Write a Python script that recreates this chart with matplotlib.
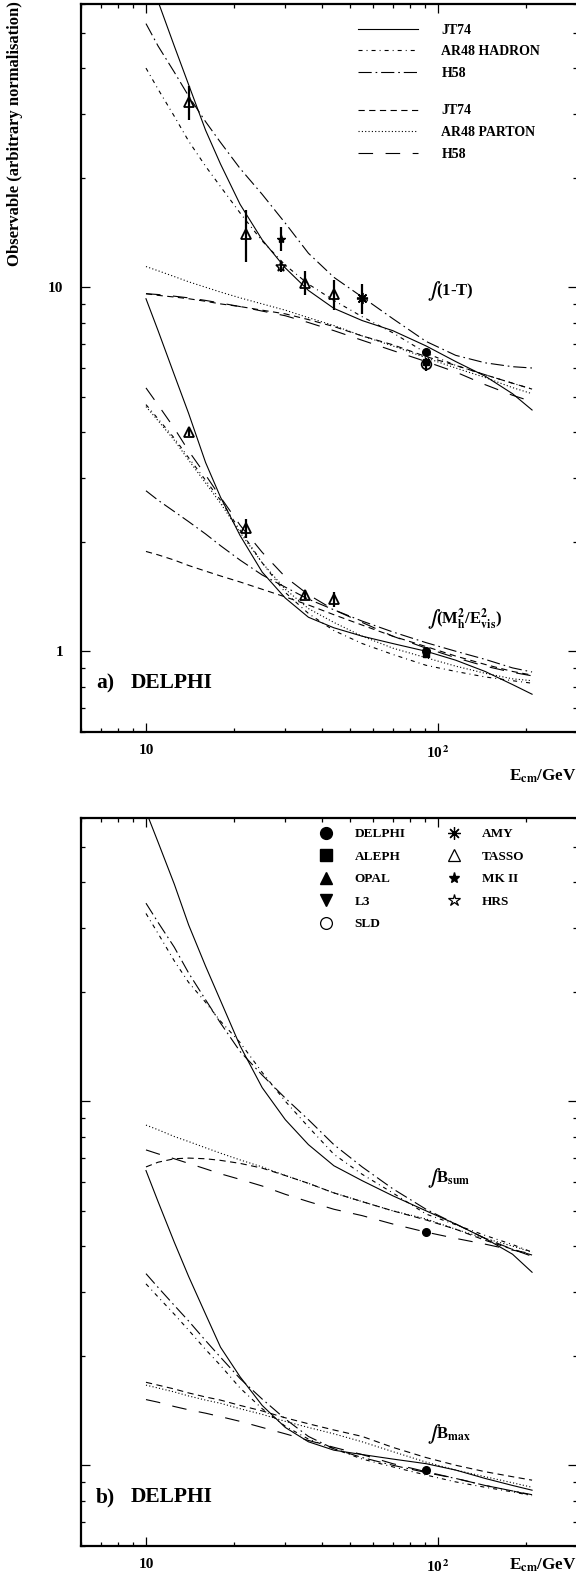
import matplotlib
matplotlib.use("Agg")
import matplotlib.pyplot as plt
from matplotlib.lines import Line2D
from matplotlib.ticker import FixedLocator, FixedFormatter, LogLocator, NullFormatter

plt.rcParams['font.family'] = ['Liberation Serif', 'DejaVu Serif']
plt.rcParams['font.weight'] = 'bold'
plt.rcParams['mathtext.fontset'] = 'stix'
plt.rcParams['mathtext.default'] = 'bf'
plt.rcParams['lines.scale_dashes'] = False

E_GRID = [10, 11, 12.5, 14, 16, 18, 21, 25, 30, 36, 44, 55, 70, 91, 115, 145, 180, 210]

# ---- panel a: integral of (1-T)
thr_jt74_had = [76, 61, 46, 36, 27, 21.8, 16.9, 13.5, 11.3, 9.8, 8.75, 8.1, 7.6, 6.9, 6.25, 5.7, 5.1, 4.6]
thr_ar48_had = [40, 35, 29.5, 25.2, 21.5, 18.9, 16, 13.4, 11.5, 10.2, 9.2, 8.3, 7.5, 6.6, 6.1, 5.75, 5.45, 5.25]
thr_h58_had = [53, 46, 39, 33.5, 28.5, 25, 21.2, 18, 15, 12.4, 10.65, 9.4, 8.2, 7.1, 6.5, 6.2, 6.05, 6.0]
thr_jt74_par = [9.6, 9.5, 9.4, 9.3, 9.15, 9.0, 8.85, 8.65, 8.45, 8.15, 7.8, 7.35, 6.95, 6.45, 6.1, 5.75, 5.45, 5.25]
thr_ar48_par = [11.4, 11.1, 10.7, 10.35, 10.0, 9.7, 9.35, 9.0, 8.65, 8.25, 7.85, 7.35, 6.9, 6.4, 6.0, 5.65, 5.3, 5.1]
thr_h58_par = [9.6, 9.55, 9.45, 9.35, 9.2, 9.05, 8.85, 8.6, 8.35, 8.0, 7.6, 7.15, 6.7, 6.25, 5.85, 5.4, 5.05, 4.85]

# ---- panel a: integral of M_h^2/E_vis^2
mh_jt74_had = [9.3, 7.6, 5.75, 4.5, 3.3, 2.65, 2.08, 1.65, 1.4, 1.24, 1.16, 1.1, 1.05, 1.0, 0.945, 0.88, 0.81, 0.762]
mh_ar48_had = [4.76, 4.35, 3.85, 3.4, 2.95, 2.6, 2.15, 1.75, 1.45, 1.27, 1.14, 1.05, 0.98, 0.915, 0.88, 0.85, 0.83, 0.817]
mh_h58_had = [2.76, 2.6, 2.42, 2.27, 2.1, 1.95, 1.78, 1.62, 1.5, 1.39, 1.3, 1.21, 1.13, 1.056, 1.0, 0.95, 0.9, 0.877]
mh_jt74_par = [1.88, 1.84, 1.78, 1.72, 1.66, 1.61, 1.55, 1.48, 1.41, 1.34, 1.26, 1.18, 1.1, 1.03, 0.97, 0.92, 0.88, 0.86]
mh_ar48_par = [4.7, 4.3, 3.8, 3.35, 2.9, 2.55, 2.12, 1.75, 1.48, 1.31, 1.2, 1.1, 1.02, 0.96, 0.91, 0.87, 0.84, 0.83]
mh_h58_par = [5.29, 4.75, 4.1, 3.55, 3.05, 2.65, 2.22, 1.87, 1.6, 1.43, 1.3, 1.2, 1.1, 1.02, 0.96, 0.91, 0.875, 0.856]

# ---- panel b: integral of B_sum
bs_jt74_had = [62.6, 51.5, 39.5, 30.5, 23.5, 18.9, 14.2, 10.9, 8.9, 7.6, 6.65, 6.05, 5.5, 5.0, 4.6, 4.2, 3.8, 3.39]
bs_ar48_had = [32.8, 28.9, 24.3, 21.2, 18.7, 16.6, 14.5, 12.0, 10.0, 8.5, 7.15, 6.3, 5.6, 4.9, 4.58, 4.28, 4.04, 3.85]
bs_h58_had = [35, 31, 26.5, 22.5, 19, 16.4, 13.7, 11.8, 10.2, 8.9, 7.6, 6.6, 5.75, 5.05, 4.6, 4.2, 3.92, 3.75]
bs_jt74_par = [6.6, 6.8, 6.95, 6.98, 6.95, 6.88, 6.75, 6.55, 6.25, 5.95, 5.6, 5.3, 5.0, 4.72, 4.45, 4.15, 3.92, 3.78]
bs_ar48_par = [8.6, 8.35, 8.0, 7.75, 7.45, 7.2, 6.9, 6.6, 6.25, 5.95, 5.6, 5.3, 5.0, 4.75, 4.45, 4.2, 4.0, 3.85]
bs_h58_par = [7.35, 7.17, 6.95, 6.75, 6.52, 6.32, 6.1, 5.85, 5.55, 5.3, 5.05, 4.85, 4.6, 4.37, 4.2, 4.05, 3.9, 3.81]

# ---- panel b: integral of B_max
bm_jt74_had = [6.45, 5.3, 4.1, 3.3, 2.6, 2.11, 1.75, 1.46, 1.27, 1.16, 1.1, 1.07, 1.04, 1.01, 0.97, 0.92, 0.88, 0.854]
bm_ar48_had = [3.15, 2.9, 2.6, 2.35, 2.08, 1.88, 1.63, 1.43, 1.28, 1.18, 1.11, 1.04, 0.99, 0.94, 0.9, 0.87, 0.845, 0.825]
bm_h58_had = [3.36, 3.08, 2.75, 2.49, 2.2, 1.98, 1.73, 1.52, 1.34, 1.2, 1.11, 1.05, 1.0, 0.955, 0.92, 0.88, 0.85, 0.83]
bm_jt74_par = [1.69, 1.66, 1.62, 1.58, 1.54, 1.51, 1.46, 1.41, 1.35, 1.3, 1.25, 1.2, 1.12, 1.05, 1.0, 0.96, 0.93, 0.91]
bm_ar48_par = [1.66, 1.63, 1.59, 1.55, 1.51, 1.48, 1.43, 1.38, 1.32, 1.27, 1.22, 1.16, 1.09, 1.02, 0.97, 0.93, 0.895, 0.87]
bm_h58_par = [1.515, 1.49, 1.45, 1.42, 1.39, 1.36, 1.32, 1.27, 1.22, 1.17, 1.12, 1.07, 1.01, 0.96, 0.92, 0.88, 0.85, 0.827]

# ---- measurements
tasso_e = [14, 22, 35, 44]
tasso_thr = [32.3, 14.0, 10.3, 9.57]
tasso_thr_err = [3.5, 2.3, 0.75, 0.9]
tasso_mh = [3.99, 2.18, 1.43, 1.39]
tasso_mh_err = [0.08, 0.13, 0.04, 0.065]
mk2_e, mk2_thr, mk2_thr_err = [29], [13.6], [1.0]
hrs_e, hrs_thr, hrs_thr_err = [29], [11.35], [0.35]
amy_e, amy_thr, amy_thr_err = [55], [9.33], [0.9]
lep_e = [91.2]
delphi_thr, delphi_mh, delphi_bsum, delphi_bmax = [6.62], [1.0], [4.37], [0.973]
aleph_thr, aleph_mh = [6.22], [0.985]
sld_thr, sld_thr_err = [6.15], [0.25]

# line styles of the models (dash lengths in points)
STY = {
    'jt74_had': dict(ls='-'),
    'ar48_had': dict(ls=(0, (2.9, 2.9, 0.7, 2.9))),
    'h58_had': dict(ls=(0, (9.5, 2.8, 1.2, 2.8))),
    'jt74_par': dict(ls=(0, (4.5, 3.2))),
    'ar48_par': dict(ls=(0, (0.8, 1.6))),
    'h58_par': dict(ls=(0, (10.5, 9.0))),
}
LW = 0.8

W, H = 576, 1574
def fx(px):
    return px / W
def fy(py):
    return 1 - py / H

fig = plt.figure(figsize=(W / 100, H / 100), dpi=100)
ax_a = fig.add_axes([fx(81.2), fy(732), (577.3 - 81.2) / W, 728 / H])
ax_b = fig.add_axes([fx(81.2), fy(1546), (577.3 - 81.2) / W, 728 / H])


def draw_curves(ax, curves):
    for key, vals in curves:
        ax.plot(E_GRID, vals, color='black', lw=LW, **STY[key])


draw_curves(ax_a, [('jt74_had', thr_jt74_had), ('ar48_had', thr_ar48_had), ('h58_had', thr_h58_had),
                   ('jt74_par', thr_jt74_par), ('ar48_par', thr_ar48_par), ('h58_par', thr_h58_par),
                   ('jt74_had', mh_jt74_had), ('ar48_had', mh_ar48_had), ('h58_had', mh_h58_had),
                   ('jt74_par', mh_jt74_par), ('ar48_par', mh_ar48_par), ('h58_par', mh_h58_par)])
draw_curves(ax_b, [('jt74_had', bs_jt74_had), ('ar48_had', bs_ar48_had), ('h58_had', bs_h58_had),
                   ('jt74_par', bs_jt74_par), ('ar48_par', bs_ar48_par), ('h58_par', bs_h58_par),
                   ('jt74_had', bm_jt74_had), ('ar48_had', bm_ar48_had), ('h58_had', bm_h58_had),
                   ('jt74_par', bm_jt74_par), ('ar48_par', bm_ar48_par), ('h58_par', bm_h58_par)])

# data points, panel a
ebar = dict(fmt='none', ecolor='black', elinewidth=1.6, capsize=0, zorder=4)
ax_a.errorbar(tasso_e, tasso_thr, yerr=tasso_thr_err, **ebar)
ax_a.errorbar(tasso_e, tasso_mh, yerr=tasso_mh_err, **ebar)
ax_a.errorbar(mk2_e, mk2_thr, yerr=mk2_thr_err, **ebar)
ax_a.errorbar(hrs_e, hrs_thr, yerr=hrs_thr_err, **ebar)
ax_a.errorbar(amy_e, amy_thr, yerr=amy_thr_err, **ebar)
ax_a.errorbar(lep_e, sld_thr, yerr=sld_thr_err, **ebar)
ax_a.plot(tasso_e, tasso_thr, ls='none', marker='^', ms=7, mfc='none', mec='black', mew=1.3, zorder=5)
ax_a.plot(tasso_e, tasso_mh, ls='none', marker='^', ms=7, mfc='none', mec='black', mew=1.3, zorder=5)
ax_a.plot(mk2_e, mk2_thr, ls='none', marker='*', ms=6, color='black', zorder=5)
ax_a.plot(hrs_e, hrs_thr, ls='none', marker='*', ms=8, mfc='none', mec='black', mew=1.1, zorder=5)
ax_a.plot(amy_e, amy_thr, ls='none', marker=(8, 2, 0), ms=8, color='black', mew=1.3, zorder=5)
ax_a.plot(lep_e, aleph_thr, ls='none', marker='s', ms=4.5, color='black', zorder=5)
ax_a.plot(lep_e, aleph_mh, ls='none', marker='s', ms=4.5, color='black', zorder=5)
ax_a.plot(lep_e, sld_thr, ls='none', marker='o', ms=7, mfc='none', mec='black', mew=1.2, zorder=5)
ax_a.plot(lep_e, delphi_thr, ls='none', marker='o', ms=5.5, color='black', zorder=6)
ax_a.plot(lep_e, delphi_mh, ls='none', marker='o', ms=5.5, color='black', zorder=6)

# data points, panel b
ax_b.plot(lep_e, delphi_bsum, ls='none', marker='o', ms=5.5, color='black', zorder=6)
ax_b.plot(lep_e, delphi_bmax, ls='none', marker='o', ms=5.5, color='black', zorder=6)

# axes cosmetics
for ax, show_y in ((ax_a, True), (ax_b, False)):
    ax.set_xscale('log')
    ax.set_yscale('log')
    ax.set_xlim(6, 300)
    ax.set_ylim(0.6, 60)
    ax.xaxis.set_major_locator(FixedLocator([10, 100]))
    ax.xaxis.set_major_formatter(FixedFormatter(['10', r'10$^{\,2}$']))
    ax.xaxis.set_minor_locator(LogLocator(base=10, subs=range(2, 10)))
    ax.xaxis.set_minor_formatter(NullFormatter())
    ax.yaxis.set_major_locator(FixedLocator([1, 10]))
    ax.yaxis.set_minor_locator(LogLocator(base=10, subs=range(2, 10)))
    ax.yaxis.set_minor_formatter(NullFormatter())
    if show_y:
        ax.yaxis.set_major_formatter(FixedFormatter(['1', '10']))
    else:
        ax.yaxis.set_major_formatter(NullFormatter())
    ax.tick_params(which='both', direction='in', top=True, right=True, width=0.9, labelsize=11)
    ax.tick_params(which='major', length=6.5)
    ax.tick_params(which='minor', length=3)
    ax.tick_params(axis='x', which='major', pad=9)
    ax.tick_params(axis='y', which='major', pad=13)
    for sp in ax.spines.values():
        sp.set_linewidth(1.6)

# legends
hadron_handles = [Line2D([], [], color='black', lw=LW, **STY[k]) for k in ('jt74_had', 'ar48_had', 'h58_had')]
parton_handles = [Line2D([], [], color='black', lw=LW, **STY[k]) for k in ('jt74_par', 'ar48_par', 'h58_par')]
leg_kw = dict(loc='upper left', bbox_transform=fig.transFigure, frameon=False, borderpad=0,
              borderaxespad=0, handlelength=4.3, handletextpad=1.7, labelspacing=0.62,
              prop={'size': 10, 'weight': 'bold'})
leg1 = ax_a.legend(hadron_handles, ['JT74', 'AR48 HADRON', 'H58'], bbox_to_anchor=(fx(358), fy(23.5)), **leg_kw)
ax_a.add_artist(leg1)
ax_a.legend(parton_handles, ['JT74', 'AR48 PARTON', 'H58'], bbox_to_anchor=(fx(358), fy(104.5)), **leg_kw)

exp_handles = [
    Line2D([], [], ls='none', marker='o', ms=8.5, color='black'),
    Line2D([], [], ls='none', marker='s', ms=8.5, color='black'),
    Line2D([], [], ls='none', marker='^', ms=8.5, color='black'),
    Line2D([], [], ls='none', marker='v', ms=8.5, color='black'),
    Line2D([], [], ls='none', marker='o', ms=8.5, mfc='none', mec='black', mew=0.9),
    Line2D([], [], ls='none', marker=(8, 2, 0), ms=9, color='black', mew=0.9),
    Line2D([], [], ls='none', marker='^', ms=9, mfc='none', mec='black', mew=0.9),
    Line2D([], [], ls='none', marker='*', ms=8, color='black'),
    Line2D([], [], ls='none', marker='*', ms=9, mfc='none', mec='black', mew=0.9),
]
exp_labels = ['DELPHI', 'ALEPH', 'OPAL', 'L3', 'SLD', 'AMY', 'TASSO', 'MK II', 'HRS']
ax_b.legend(exp_handles, exp_labels, ncol=2, loc='upper left', bbox_to_anchor=(fx(319.5), fy(828)),
            bbox_transform=fig.transFigure, frameon=False, borderpad=0, borderaxespad=0,
            handlelength=1.0, handletextpad=1.65, labelspacing=0.78, columnspacing=3.15,
            prop={'size': 9.5, 'weight': 'bold'})

# observable labels
fig.text(fx(427), fy(291), r'$\int$(1-T)', fontsize=12, va='center', ha='left')
fig.text(fx(427), fy(620), r'$\int$(M$_h^2$/E$_{vis}^2$)', fontsize=12, va='center', ha='left')
fig.text(fx(427), fy(1178), r'$\int$B$_{sum}$', fontsize=12, va='center', ha='left')
fig.text(fx(427), fy(1434), r'$\int$B$_{max}$', fontsize=12, va='center', ha='left')

fig.text(fx(96), fy(683), 'a)', fontsize=15.5, va='center', ha='left')
fig.text(fx(131), fy(683), 'DELPHI', fontsize=15.5, va='center', ha='left')
fig.text(fx(96), fy(1497), 'b)', fontsize=15.5, va='center', ha='left')
fig.text(fx(131), fy(1497), 'DELPHI', fontsize=15.5, va='center', ha='left')

fig.text(fx(509), fy(776), r'E$_{cm}$/GeV', fontsize=12.3, va='center', ha='left')
fig.text(fx(509), fy(1565), r'E$_{cm}$/GeV', fontsize=12.3, va='center', ha='left')

fig.text(fx(15), fy(134), 'Observable (arbitrary normalisation)', fontsize=12,
         rotation=90, va='center', ha='center')

fig.savefig('out.png', dpi=100)
